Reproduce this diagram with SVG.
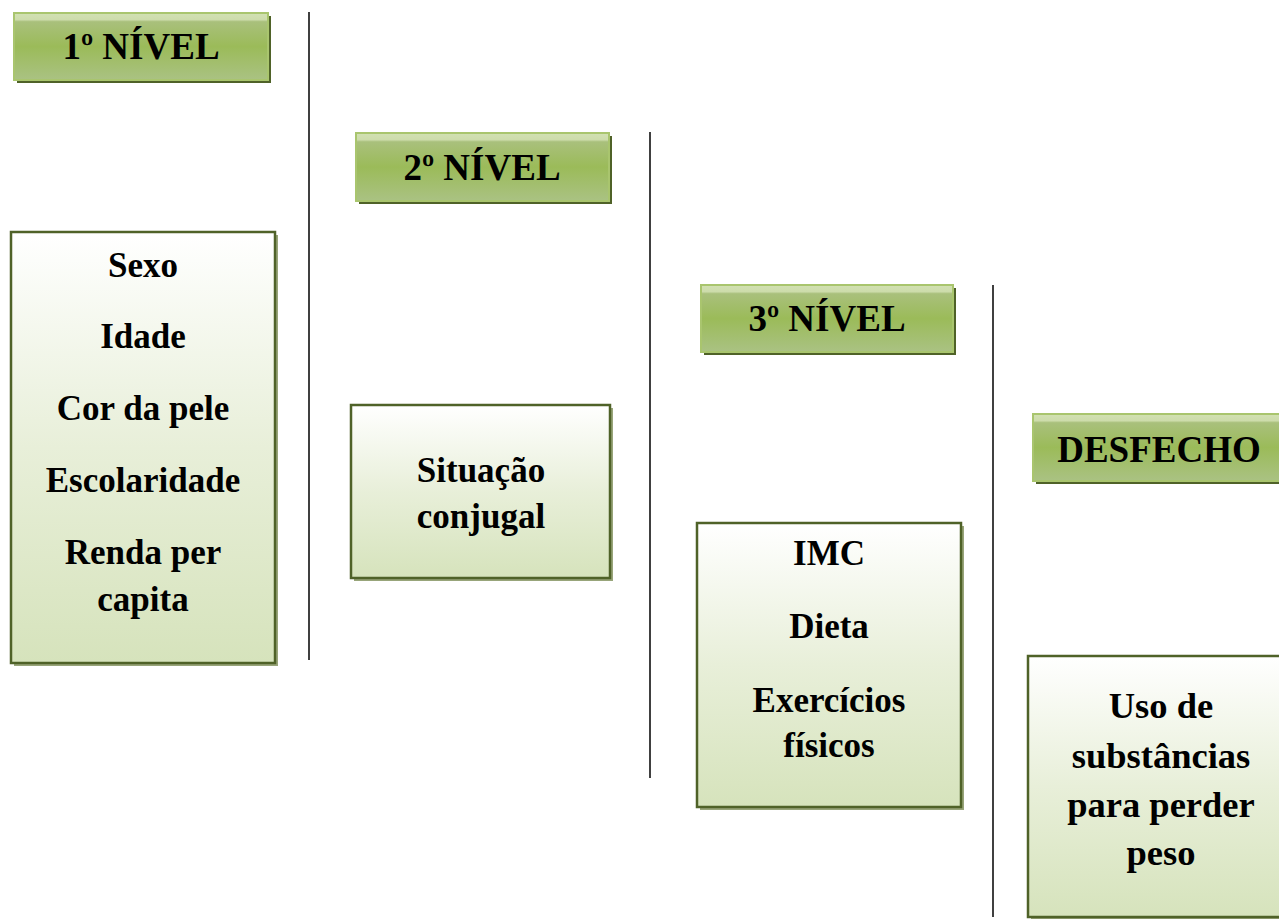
<svg xmlns="http://www.w3.org/2000/svg" width="1279" height="919" viewBox="0 0 1279 919">
<defs>
<linearGradient id="hdr" x1="0" y1="0" x2="0" y2="1">
<stop offset="0" stop-color="#d2e1b3"/>
<stop offset="0.1" stop-color="#cddcab"/>
<stop offset="0.13" stop-color="#a9c07c"/>
<stop offset="0.5" stop-color="#9bbb59"/>
<stop offset="1" stop-color="#aac283"/>
</linearGradient>
<linearGradient id="body" x1="0" y1="0" x2="0" y2="1">
<stop offset="0" stop-color="#ffffff"/>
<stop offset="0.5" stop-color="#e8efd9"/>
<stop offset="1" stop-color="#d6e3bc"/>
</linearGradient>
</defs>
<style>
.hs{fill:#4f6228}
.h{fill:url(#hdr);stroke:#a9c56e;stroke-width:2}
.bs{fill:#98a57a}
.b{fill:url(#body);stroke:#4f6228;stroke-width:2.5}
text{font-family:"Liberation Serif","Times New Roman",serif;font-weight:bold;fill:#000;text-anchor:middle}
.ht{font-size:37px}
.bt{font-size:35px}
.bt4{font-size:36.5px}
.sep{stroke:#000;stroke-width:1.5}
</style>
<rect width="1279" height="919" fill="#ffffff"/>
<g id="connectors">
<line class="sep" x1="309" y1="12" x2="309" y2="660"/>
<line class="sep" x1="650" y1="132" x2="650" y2="778"/>
<line class="sep" x1="993" y1="285" x2="993" y2="917"/>
</g>
<g id="nivel1">
<rect class="hs" x="17" y="16" width="254" height="67"/>
<rect class="h" x="14" y="13" width="254" height="67"/>
<text class="ht" x="141" y="59">1º NÍVEL</text>
</g>
<g id="nivel2">
<rect class="hs" x="359" y="136" width="253" height="68"/>
<rect class="h" x="356" y="133" width="253" height="68"/>
<text class="ht" x="482" y="180">2º NÍVEL</text>
</g>
<g id="nivel3">
<rect class="hs" x="704" y="288" width="252" height="67"/>
<rect class="h" x="701" y="285" width="252" height="67"/>
<text class="ht" x="827" y="331">3º NÍVEL</text>
</g>
<g id="desfecho">
<rect class="hs" x="1036" y="417" width="252" height="67"/>
<rect class="h" x="1033" y="414" width="252" height="67"/>
<text class="ht" x="1159" y="462">DESFECHO</text>
</g>
<g id="box1">
<rect class="bs" x="14" y="235" width="264" height="431"/>
<rect class="b" x="11" y="232" width="264" height="431"/>
<text class="bt" x="143" y="277">Sexo</text>
<text class="bt" x="143" y="348">Idade</text>
<text class="bt" x="143" y="420">Cor da pele</text>
<text class="bt" x="143" y="492">Escolaridade</text>
<text class="bt" x="143" y="564">Renda per</text>
<text class="bt" x="143" y="611">capita</text>
</g>
<g id="box2">
<rect class="bs" x="354" y="408" width="259" height="173"/>
<rect class="b" x="351" y="405" width="259" height="173"/>
<text class="bt" x="481" y="482">Situação</text>
<text class="bt" x="481" y="528">conjugal</text>
</g>
<g id="box3">
<rect class="bs" x="700" y="526" width="264" height="284"/>
<rect class="b" x="697" y="523" width="264" height="284"/>
<text class="bt" x="829" y="565">IMC</text>
<text class="bt" x="829" y="638">Dieta</text>
<text class="bt" x="829" y="712">Exercícios</text>
<text class="bt" x="829" y="757">físicos</text>
</g>
<g id="box4">
<rect class="bs" x="1031" y="659" width="264" height="264"/>
<rect class="b" x="1028" y="656" width="264" height="261"/>
<text class="bt4" x="1161" y="718">Uso de</text>
<text class="bt4" x="1161" y="768">substâncias</text>
<text class="bt4" x="1161" y="817">para perder</text>
<text class="bt4" x="1161" y="865">peso</text>
</g>
</svg>
